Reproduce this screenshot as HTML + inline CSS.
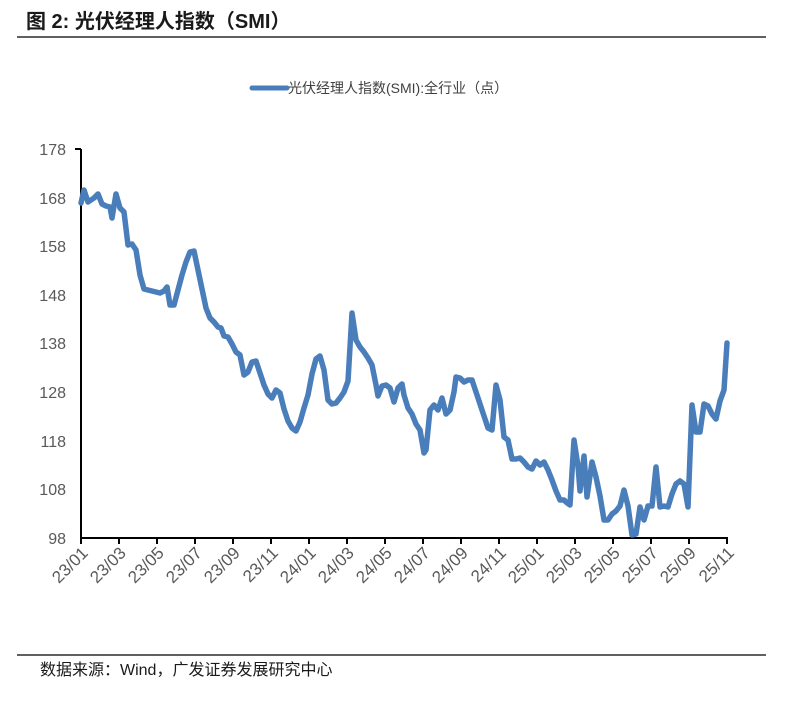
<!DOCTYPE html>
<html><head><meta charset="utf-8"><style>
body{margin:0;background:#fff;width:810px;height:702px;overflow:hidden;font-family:"Liberation Sans","Noto Sans CJK SC",sans-serif;}
</style></head><body>
<svg width="810" height="702" xmlns="http://www.w3.org/2000/svg" style="position:absolute;left:0;top:0">
<text x="26" y="28" font-size="20" font-weight="bold" fill="#1a1a1a" font-family="Liberation Sans,Noto Sans CJK SC,sans-serif">图  2:  光伏经理人指数（SMI）</text>
<line x1="17" y1="37" x2="766" y2="37" stroke="#000" stroke-width="1.3"/>
<line x1="252" y1="88" x2="287" y2="88" stroke="#4a7ebb" stroke-width="5" stroke-linecap="round"/>
<text x="288" y="93" font-size="14" fill="#404040" font-family="Liberation Sans,Noto Sans CJK SC,sans-serif">光伏经理人指数(SMI):全行业（点）</text>
<g font-size="16" fill="#595959" text-anchor="end" font-family="Liberation Sans,sans-serif">
<text x="66" y="155">178</text><text x="66" y="204">168</text><text x="66" y="252">158</text><text x="66" y="301">148</text><text x="66" y="349">138</text><text x="66" y="398">128</text><text x="66" y="447">118</text><text x="66" y="495">108</text><text x="66" y="544">98</text>
</g>
<line x1="81" y1="149" x2="81" y2="538" stroke="#000" stroke-width="2"/>
<line x1="75" y1="149" x2="81" y2="149" stroke="#000" stroke-width="2"/>
<line x1="81" y1="538" x2="728" y2="538" stroke="#000" stroke-width="2"/>
<g stroke="#000" stroke-width="2">
<line x1="81" y1="538" x2="81" y2="544"/><line x1="119" y1="538" x2="119" y2="544"/><line x1="157" y1="538" x2="157" y2="544"/><line x1="195" y1="538" x2="195" y2="544"/><line x1="233" y1="538" x2="233" y2="544"/><line x1="271" y1="538" x2="271" y2="544"/><line x1="309" y1="538" x2="309" y2="544"/><line x1="347" y1="538" x2="347" y2="544"/><line x1="385" y1="538" x2="385" y2="544"/><line x1="423" y1="538" x2="423" y2="544"/><line x1="461" y1="538" x2="461" y2="544"/><line x1="499" y1="538" x2="499" y2="544"/><line x1="537" y1="538" x2="537" y2="544"/><line x1="575" y1="538" x2="575" y2="544"/><line x1="613" y1="538" x2="613" y2="544"/><line x1="651" y1="538" x2="651" y2="544"/><line x1="689" y1="538" x2="689" y2="544"/><line x1="727" y1="538" x2="727" y2="544"/>
</g>
<g font-size="17" fill="#595959" text-anchor="end" font-family="Liberation Sans,sans-serif">
<text transform="translate(89,554) rotate(-45)">23/01</text>
<text transform="translate(127,554) rotate(-45)">23/03</text>
<text transform="translate(165,554) rotate(-45)">23/05</text>
<text transform="translate(203,554) rotate(-45)">23/07</text>
<text transform="translate(241,554) rotate(-45)">23/09</text>
<text transform="translate(279,554) rotate(-45)">23/11</text>
<text transform="translate(317,554) rotate(-45)">24/01</text>
<text transform="translate(355,554) rotate(-45)">24/03</text>
<text transform="translate(393,554) rotate(-45)">24/05</text>
<text transform="translate(431,554) rotate(-45)">24/07</text>
<text transform="translate(469,554) rotate(-45)">24/09</text>
<text transform="translate(507,554) rotate(-45)">24/11</text>
<text transform="translate(545,554) rotate(-45)">25/01</text>
<text transform="translate(583,554) rotate(-45)">25/03</text>
<text transform="translate(621,554) rotate(-45)">25/05</text>
<text transform="translate(659,554) rotate(-45)">25/07</text>
<text transform="translate(697,554) rotate(-45)">25/09</text>
<text transform="translate(735,554) rotate(-45)">25/11</text>
</g>
<polyline fill="none" stroke="#4a7ebb" stroke-width="5.5" stroke-linejoin="round" stroke-linecap="round" points="81,203 84,190 88,202 94,198 98,194 102,204 106,206 110,207 112,218 116,194 120,208 124,212 128,245 132,244 136,250 140,275 144,289 148,290 152,291 156,292 160,293 164,291 167,287 170,305 174,305 178,290 182,275 186,262 190,252 194,251 198,270 202,289 206,308 210,318 214,322 218,327 221,328 224,336 228,337 232,344 236,352 240,355 244,375 248,372 252,362 256,361 260,373 264,385 268,394 272,398 276,390 280,393 284,409 288,421 292,428 296,431 300,422 304,408 308,395 312,374 316,359 320,356 324,370 328,400 332,404 336,403 340,398 344,392 348,381 352,313 356,340 360,347 364,352 368,358 372,365 376,385 378,396 382,386 386,385 390,388 394,402 398,388 402,384 404,395 408,408 412,414 416,424 420,430 424,453 426,450 430,410 434,405 438,410 442,398 446,414 450,410 454,392 456,377 460,378 464,382 468,380 472,380 476,392 480,404 484,416 488,428 492,430 496,385 500,400 504,437 508,440 512,459 516,459 520,458 524,462 528,467 532,469 536,461 540,465 544,462 548,470 552,480 556,491 560,500 564,500 566,502 570,505 574,440 578,466 580,491 584,456 587,497 592,462 596,477 600,496 604,520 608,520 612,514 616,511 620,506 624,490 628,506 632,535 636,534 640,507 644,520 648,506 652,506 656,467 660,507 664,506 668,507 672,494 676,484 680,481 684,484 688,507 692,405 696,432 700,432 704,404 708,406 712,414 716,419 720,401 724,390 727,343"/>
<line x1="17" y1="655" x2="766" y2="655" stroke="#000" stroke-width="1.3"/>
<text x="40" y="675" font-size="16" fill="#1a1a1a" font-family="Liberation Sans,Noto Sans CJK SC,sans-serif">数据来源：Wind，广发证券发展研究中心</text>
</svg>
</body></html>
